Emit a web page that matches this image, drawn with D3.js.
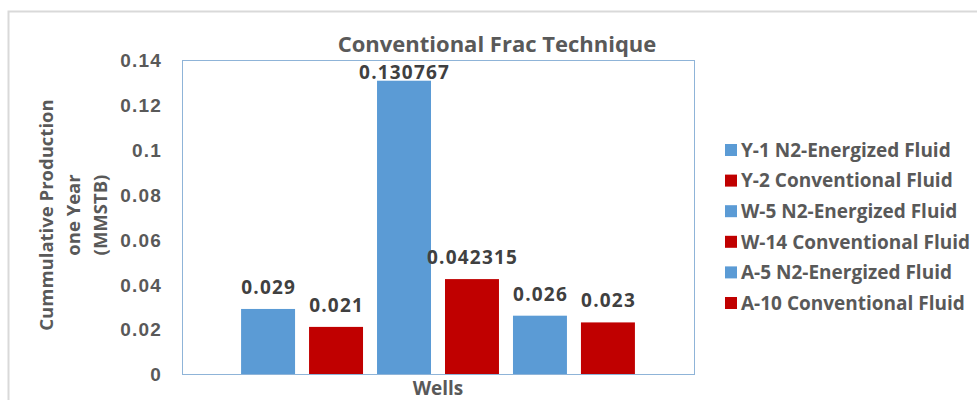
<!DOCTYPE html>
<html>
<head>
<meta charset="utf-8">
<script src="https://cdn.jsdelivr.net/npm/d3@7"></script>
<style>
  html, body { margin: 0; padding: 0; background: #fff; }
  svg { display: block; font-family: "Open Sans", "Noto Sans", sans-serif; }
</style>
</head>
<body>
<svg id="chart" width="977" height="400"></svg>
<script>
// Cumulative one-year production per well
const category = "Wells";
const wells = [
  "Y-1 N2-Energized Fluid",
  "Y-2 Conventional Fluid",
  "W-5 N2-Energized Fluid",
  "W-14 Conventional Fluid",
  "A-5 N2-Energized Fluid",
  "A-10 Conventional Fluid"
];
const production = [0.029, 0.021, 0.130767, 0.042315, 0.026, 0.023];
const valueLabels = ["0.029", "0.021", "0.130767", "0.042315", "0.026", "0.023"];
const fluidColors = ["#5b9bd5", "#c00000", "#5b9bd5", "#c00000", "#5b9bd5", "#c00000"];
const yTicks = [0, 0.02, 0.04, 0.06, 0.08, 0.1, 0.12, 0.14];
const yTickLabels = ["0", "0.02", "0.04", "0.06", "0.08", "0.1", "0.12", "0.14"];
const titleText = "Conventional Frac Technique";
const yTitleLines = ["Cummulative Production", "one Year", "(MMSTB)"];

const svg = d3.select("#chart");
const plot = { left: 182, top: 60, right: 694, bottom: 374 };
const textColor = "#595959";

// chart frame
svg.append("path")
  .attr("d", `M8.5,400 V11.5 H977`)
  .attr("fill", "none")
  .attr("stroke", "#d9d9d9")
  .attr("stroke-width", 2);

const y = d3.scaleLinear().domain([0, 0.14]).range([plot.bottom, plot.top]);
const x0 = d3.scaleBand().domain([category]).range([plot.left, plot.right]).paddingOuter(0.15);
const x1 = d3.scaleBand().domain(wells).range([0, x0.bandwidth()]).paddingInner(0.206);

// plot area border
svg.append("rect")
  .attr("x", plot.left + 0.5).attr("y", plot.top + 0.5)
  .attr("width", plot.right - plot.left).attr("height", plot.bottom - plot.top)
  .attr("fill", "none").attr("stroke", "#8fb4d8").attr("stroke-width", 1);

// y axis labels
const yAxis = d3.axisLeft(y)
  .tickValues(yTicks)
  .tickFormat((d, i) => yTickLabels[i])
  .tickSize(0)
  .tickPadding(20);
const gy = svg.append("g").attr("transform", `translate(${plot.left},0)`).call(yAxis);
gy.select(".domain").remove();
gy.selectAll("text")
  .attr("fill", textColor)
  .style("font-size", "19px")
  .style("font-weight", "bold")
  .style("letter-spacing", "1.2px")
  .attr("dy", "0.36em");

// bars
const g = svg.append("g").attr("transform", `translate(${x0(category)},0)`);
g.selectAll("rect.bar")
  .data(wells)
  .join("rect")
  .attr("class", "bar")
  .attr("x", d => x1(d))
  .attr("y", (d, i) => y(production[i]))
  .attr("width", x1.bandwidth())
  .attr("height", (d, i) => plot.bottom - y(production[i]))
  .attr("fill", (d, i) => fluidColors[i]);

// value labels, kept inside the plot area when a bar runs close to the top
g.selectAll("text.val")
  .data(wells)
  .join("text")
  .attr("class", "val")
  .attr("x", d => x1(d) + x1.bandwidth() / 2 + 0.6)
  .attr("y", (d, i) => Math.max(y(production[i]) - 15, plot.top + 19))
  .attr("text-anchor", "middle")
  .attr("fill", "#404040")
  .style("font-size", "19px")
  .style("font-weight", "bold")
  .style("letter-spacing", "1.2px")
  .text((d, i) => valueLabels[i]);

// title
svg.append("text")
  .attr("x", 497).attr("y", 52)
  .attr("text-anchor", "middle")
  .attr("fill", textColor)
  .style("font-size", "22px")
  .style("font-weight", "bold")
  .text(titleText);

// x axis title
svg.append("text")
  .attr("x", x0(category) + x0.bandwidth() / 2).attr("y", 395)
  .attr("text-anchor", "middle")
  .attr("fill", textColor)
  .style("font-size", "19px")
  .style("font-weight", "bold")
  .text(category);

// y axis title
const yt = svg.append("text")
  .attr("transform", `translate(53,${(plot.top + plot.bottom) / 2 - 2}) rotate(-90)`)
  .attr("text-anchor", "middle")
  .attr("fill", textColor)
  .style("font-size", "18.5px")
  .style("font-weight", "bold");
yTitleLines.forEach((line, i) => {
  yt.append("tspan").attr("x", 0).attr("y", i * 27).text(line);
});

// legend
const legend = svg.append("g").attr("transform", "translate(725,150)");
const rows = legend.selectAll("g")
  .data(wells)
  .join("g")
  .attr("transform", (d, i) => `translate(0,${i * 30.6})`);
rows.append("rect")
  .attr("x", 0).attr("y", -6)
  .attr("width", 12).attr("height", 12)
  .attr("fill", (d, i) => fluidColors[i]);
rows.append("text")
  .attr("x", 16).attr("y", 0).attr("dy", "0.36em")
  .attr("fill", textColor)
  .style("font-size", "19px")
  .style("font-weight", "bold")
  .text(d => d);
</script>
</body>
</html>
